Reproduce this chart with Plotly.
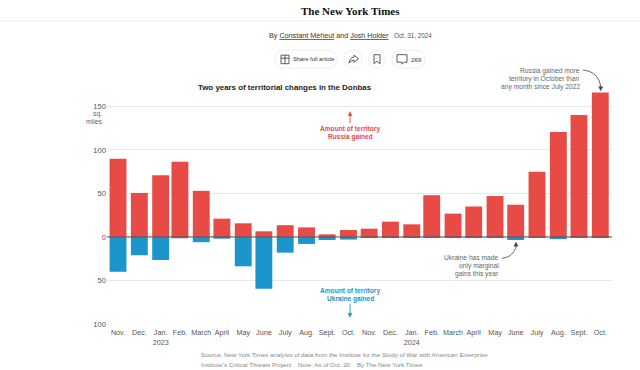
import plotly.graph_objects as go

month_ends = ["2022-11-30","2022-12-31","2023-01-31","2023-02-28","2023-03-31","2023-04-30",
              "2023-05-31","2023-06-30","2023-07-31","2023-08-31","2023-09-30","2023-10-31",
              "2023-11-30","2023-12-31","2024-01-31","2024-02-29","2024-03-31","2024-04-30",
              "2024-05-31","2024-06-30","2024-07-31","2024-08-31","2024-09-30","2024-10-31"]
month_labels = ["Nov.","Dec.","Jan.<br>2023","Feb.","March","April","May","June","July","Aug.","Sept.","Oct.",
                "Nov.","Dec.","Jan.<br>2024","Feb.","March","April","May","June","July","Aug.","Sept.","Oct."]
russia_gained = [90,50.5,71,86.5,53,21,15.7,6.5,13.5,11,3,8,
                 9.5,17.6,14.5,48,26.8,35,47,37,75,120.5,140,166]
ukraine_gained = [-40,-21,-26.5,-1.5,-6,-2,-33.7,-59.5,-18,-8,-3.5,-3,
                  -0.8,-0.7,-0.2,-0.2,-0.2,-0.2,-0.2,-3.5,-1,-2.5,-0.2,-0.2]
y_ticks = [150,100,50,0,-50,-100]
y_tick_labels = ["150","100","50","0","50","100"]

RED = "#e84a45"; BLUE = "#1b95cc"; GREY = "#666666"
SANS = "Liberation Sans"
W, H = 640, 370
L, R, T, B = 107, 612, 88.8, 323.8

def px(x): return (x - L) / (R - L)
def py(y): return (B - y) / (B - T)

def path(cmds):
    out = []
    for c in cmds:
        if isinstance(c, str):
            out.append(c)
        else:
            out.append(f"{px(c[0]):.5f},{py(c[1]):.5f}")
    return " ".join(out)

def line_shape(cmds, color, width=1, fill=None):
    return dict(type="path", xref="paper", yref="paper", path=path(cmds),
                line=dict(color=color, width=width),
                fillcolor=fill if fill else "rgba(0,0,0,0)", layer="above")

def pill(x0, x1, y0, y1):
    r = (y1 - y0) / 2
    return line_shape(["M",(x0+r,y0),"L",(x1-r,y0),"Q",(x1,y0),(x1,y0+r),"Q",(x1,y1),(x1-r,y1),
                       "L",(x0+r,y1),"Q",(x0,y1),(x0,y1-r),"Q",(x0,y0),(x0+r,y0),"Z"], "#efefef", 1)

def head(x, y, color):
    return line_shape(["M",(x-2,y-4),"L",(x,y),"L",(x+2,y-4),"Z"], color, 0.5, color)

def head_up(x, y, color):
    return line_shape(["M",(x-2,y+4),"L",(x,y),"L",(x+2,y+4),"Z"], color, 0.5, color)

def text(x, y, s, size=6.7, color=GREY, anchor="center", family=SANS):
    return dict(x=px(x), y=py(y), xref="paper", yref="paper", text=s, showarrow=False,
                xanchor=anchor, yanchor="middle", align=anchor, borderpad=0,
                font=dict(size=size, color=color, family=family))

fig = go.Figure()
fig.add_bar(x=month_ends, y=ukraine_gained, marker=dict(color=BLUE, line_width=0), width=2.12e9, name="Ukraine")
fig.add_bar(x=month_ends, y=russia_gained, marker=dict(color=RED, line_width=0), width=2.12e9, name="Russia")

shapes = [
    dict(type="line", xref="paper", yref="y", x0=0, x1=1, y0=0, y1=0, line=dict(color="#555555", width=1), layer="above"),
    line_shape(["M",(0,20.5),"L",(640,20.5)], "#f0f0f0", 1),
    pill(275, 337, 50, 68), pill(344, 362, 50, 68), pill(369, 385, 50, 68), pill(392, 425, 50, 68),
    # gift icon
    line_shape(["M",(281,55),"L",(289,55),"L",(289,63.5),"L",(281,63.5),"Z","M",(285,55),"L",(285,63.5),"M",(281,58),"L",(289,58)], "#333333", 0.8),
    # share icon
    line_shape(["M",(349,63),"Q",(350,57),(354,57),"L",(354,55),"L",(358.5,58.5),"L",(354,62),"L",(354,60),"Q",(351,60),(349,63)], "#333333", 0.8),
    # bookmark icon
    line_shape(["M",(374,54.5),"L",(380,54.5),"L",(380,63.5),"L",(377,61),"L",(374,63.5),"Z"], "#333333", 0.8),
    # comment icon
    line_shape(["M",(397,54.5),"L",(407,54.5),"L",(407,62),"L",(404,62),"L",(402,64),"L",(402,62),"L",(397,62),"Z"], "#333333", 0.8),
    # direction arrows
    line_shape(["M",(350,123),"L",(350,114)], RED, 0.9), head_up(350, 111.5, RED),
    line_shape(["M",(350,304),"L",(350,313)], BLUE, 0.9), head(350, 317, BLUE),
    # callout arrows
    line_shape(["M",(583,70),"C",(593,70.5),(600,77),(600.6,87)], "#444444", 0.8), head(600.7, 90.5, "#444444"),
    line_shape(["M",(502,258),"C",(510,257.5),(515,252),(516,246)], "#444444", 0.8), head_up(516, 242, "#444444"),
]

annotations = [
    text(350, 10.5, "<b>The New York Times</b>", 11, "#111111", family="Liberation Serif"),
    text(268, 35, "By <u>Constant Méheut</u> and <u>Josh Holder</u>", 7.2, "#333333", "left"),
    text(393, 35.5, "Oct. 31, 2024", 6.3, "#555555", "left"),
    text(292, 59, "Share full article", 5.8, "#333333", "left"),
    text(410, 59, "269", 6.2, "#333333", "left"),
    text(285, 87, "<b>Two years of territorial changes in the Donbas</b>", 7.9, "#222222"),
    text(103, 113.5, "sq.", 6.8, GREY, "right"),
    text(103, 121.5, "miles", 6.8, GREY, "right"),
    text(350, 128.5, "<b>Amount of territory</b>", 6.6, RED),
    text(350, 137, "<b>Russia gained</b>", 6.6, RED),
    text(350, 290.5, "<b>Amount of territory</b>", 6.6, BLUE),
    text(350, 298.8, "<b>Ukraine gained</b>", 6.6, BLUE),
    text(581, 70.5, "Russia gained more", 6.7, GREY, "right"),
    text(581, 79, "territory in October than", 6.7, GREY, "right"),
    text(581, 87, "any month since July 2022", 6.7, GREY, "right"),
    text(500, 257.5, "Ukraine has made", 6.7, GREY, "right"),
    text(500, 265.7, "only marginal", 6.7, GREY, "right"),
    text(500, 273.8, "gains this year", 6.7, GREY, "right"),
    text(199.5, 354.5, "Source: New York Times analysis of data from the Institute for the Study of War with American Enterprise", 6.2, "#888888", "left"),
    text(199.5, 364, "Institute’s Critical Threats Project &nbsp;&nbsp; Note: As of Oct. 20 &nbsp;&nbsp; By The New York Times", 6.2, "#888888", "left"),
]

fig.update_layout(
    width=W, height=H, autosize=False, barmode="overlay", showlegend=False,
    paper_bgcolor="white", plot_bgcolor="white",
    margin=dict(l=L, r=W-R, t=T, b=H-B, pad=0),
    xaxis=dict(type="date", range=["2022-11-14","2024-11-17"], tickmode="array",
               tickvals=month_ends, ticktext=month_labels, showgrid=False, zeroline=False,
               showline=False, ticks="", tickangle=0, ticklabelstandoff=3,
               tickfont=dict(size=7.2, color="#555555", family=SANS)),
    yaxis=dict(range=[-100,170], tickmode="array", tickvals=y_ticks, ticktext=y_tick_labels,
               showgrid=True, gridcolor="#e8e8e8", gridwidth=1, zeroline=False, showline=False,
               ticks="", tickfont=dict(size=7.6, color="#555555", family=SANS)),
    shapes=shapes, annotations=annotations,
)
fig.write_html("out.html", config=dict(displayModeBar=False),
               post_script="document.body.style.margin='0';document.body.style.overflow='hidden';")
